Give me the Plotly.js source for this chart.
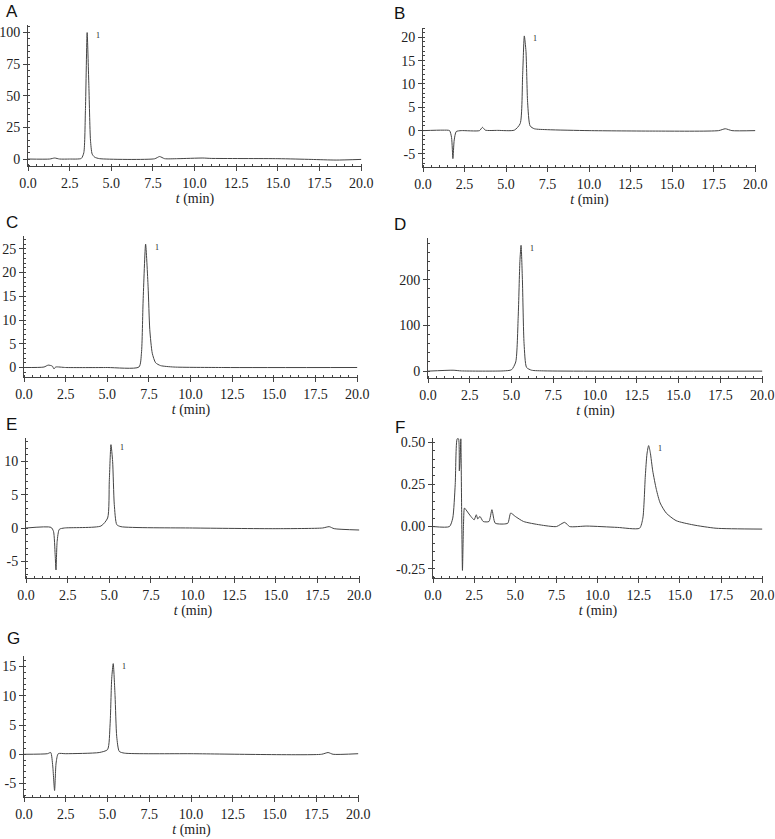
<!DOCTYPE html>
<html>
<head>
<meta charset="utf-8">
<script src="https://cdn.plot.ly/plotly-3.0.1.min.js"></script>
<style>
  body { margin: 0; background: #fff; }
  #grafico { width: 775px; height: 839px; }
</style>
</head>
<body>
<div id="grafico"></div>
<script>
/* global Plotly */

// sinais (t em min)
var tA = [0, 1.3, 1.6, 1.9, 2.5, 3.2, 3.35, 3.45, 3.55, 3.65, 3.75, 3.85, 4.0, 4.3, 7.6, 7.9, 8.2, 9, 10.5, 11, 15, 17, 18.5, 20];
var yA = [0, 0, 0.8, 0, 0, 0.5, 5, 40, 100, 60, 15, 4, 1.5, 0.3, 0.2, 2, 0.3, 0.3, 0.8, 0.5, 0.3, -0.3, -0.8, -0.3];

var tB = [0, 1.2, 1.6, 1.72, 1.8, 1.88, 2.0, 2.3, 3.4, 3.58, 3.75, 4.5, 5.5, 5.85, 6.0, 6.1, 6.2, 6.3, 6.45, 6.7, 7.5, 10, 14, 17.8, 18.2, 18.6, 20];
var yB = [0, 0.1, 0, -1.5, -6, -2, -0.2, 0, 0, 0.7, 0.1, 0.05, 0.1, 1.5, 12, 20.3, 17, 6, 1, 0.4, 0.2, 0, -0.1, 0, 0.4, 0, 0];

var tC = [0, 1.2, 1.45, 1.7, 1.8, 1.9, 2.5, 5, 6.9, 7.05, 7.15, 7.3, 7.45, 7.55, 7.7, 7.9, 8.2, 9, 12, 20];
var yC = [0, 0.1, 0.5, 0.3, -0.3, 0.1, 0, 0, 0.1, 3, 14, 26, 17, 8, 3, 1, 0.4, 0.1, 0, 0];

var tD = [0, 1.5, 2, 4.5, 5.0, 5.25, 5.4, 5.5, 5.57, 5.65, 5.75, 5.9, 6.2, 7, 20];
var yD = [0, 2, 0.5, 0.5, 3, 20, 120, 240, 275, 200, 60, 8, 2, 0.5, 0];

var tE = [0, 1.5, 1.65, 1.75, 1.8, 1.87, 2.0, 2.3, 4.5, 4.9, 5.0, 5.1, 5.2, 5.3, 5.45, 5.7, 10, 15, 17.8, 18.2, 18.5, 20];
var yE = [0, 0.1, -0.5, -4, -6.3, -2, -0.2, 0, 0.3, 1.5, 7, 12.5, 10, 3.5, 0.5, 0.2, 0, -0.1, 0, 0.2, -0.1, -0.3];

var tF = [0, 1.0, 1.2, 1.35, 1.47, 1.55, 1.6, 1.65, 1.69, 1.74, 1.79, 1.85, 1.91, 2.0, 2.3, 2.5, 2.63, 2.72, 2.85, 3.05, 3.4, 3.58, 3.78, 4.3, 4.55, 4.72, 5.0, 5.5, 6.5, 7.5, 8.0, 8.3, 9.35, 11.2, 12.55, 12.75, 12.9, 13.0, 13.1, 13.2, 13.35, 13.57, 13.8, 14.17, 14.77, 15.8, 17.2, 20];
var yF = [0, 0, 0.05, 0.25, 0.52, 0.52, 0.33, 0.4, 0.52, 0.1, -0.26, 0.0, 0.11, 0.1, 0.06, 0.04, 0.07, 0.045, 0.06, 0.03, 0.03, 0.1, 0.02, 0.015, 0.02, 0.08, 0.06, 0.03, 0.01, 0.0, 0.025, 0.0, 0.003, -0.005, -0.01, 0.05, 0.3, 0.43, 0.48, 0.44, 0.33, 0.22, 0.14, 0.08, 0.035, 0.01, -0.01, -0.015];

var tG = [0, 1.4, 1.6, 1.72, 1.83, 1.92, 2.05, 2.5, 4.5, 5.0, 5.15, 5.25, 5.34, 5.45, 5.55, 5.7, 6, 10, 17.8, 18.2, 18.5, 20];
var yG = [0, 0.1, 0.3, -2, -6.2, -1.5, 0.1, 0.1, 0.3, 0.8, 5, 13, 15.5, 10, 3, 0.5, 0.2, 0.1, 0, 0.3, 0, 0.1];

// rótulos dos eixos
var marcasX = [0, 2.5, 5, 7.5, 10, 12.5, 15, 17.5, 20];
var textosX = ['0.0', '2.5', '5.0', '7.5', '10.0', '12.5', '15.0', '17.5', '20.0'];
var marcasY = [
    [0, 25, 50, 75, 100],
    [-5, 0, 5, 10, 15, 20],
    [0, 5, 10, 15, 20, 25],
    [0, 100, 200],
    [-5, 0, 5, 10],
    [-0.25, 0, 0.25, 0.5],
    [-5, 0, 5, 10, 15]
];
var textosY = [
    ['0', '25', '50', '75', '100'],
    ['-5', '0', '5', '10', '15', '20'],
    ['0', '5', '10', '15', '20', '25'],
    ['0', '100', '200'],
    ['-5', '0', '5', '10'],
    ['-0.25', '0.00', '0.25', '0.50'],
    ['-5', '0', '5', '10', '15']
];

var letras = ['A', 'B', 'C', 'D', 'E', 'F', 'G'];
var tempos = [tA, tB, tC, tD, tE, tF, tG];
var sinais = [yA, yB, yC, yD, yE, yF, yG];
var picoT = [3.55, 6.1, 7.3, 5.57, 5.1, 13.1, 5.34];
var picoY = [100, 20.3, 26, 275, 12.5, 0.48, 15.5];

// posição de cada painel em pixels: [esq, dir, topo, base]
var caixas = [
    [28, 362, 25, 166],
    [423, 756, 28, 167],
    [24, 358, 236, 377],
    [428, 763, 238, 378],
    [26, 360, 438, 578],
    [433, 763, 438, 578],
    [24, 359, 656, 797]
];
var letraXY = [[4, 12], [392, 14], [4, 222], [392, 224], [4, 424], [393, 427], [5, 638]];
var faixasY = [[-5.5, 106], [-7.8, 22], [-2, 27.7], [-15, 291], [-7.5, 13.5], [-0.305, 0.525], [-7.3, 16.8]];
var menorY = [5, 1, 1, 20, 1, 0.05, 1];

var serifa = 'Liberation Serif';
var W = 775, H = 839;
var dados = [];
var estilo = {
    width: W,
    height: H,
    margin: {l: 0, r: 0, t: 0, b: 0},
    paper_bgcolor: '#fff',
    plot_bgcolor: 'rgba(0,0,0,0)',
    showlegend: false,
    font: {family: serifa, size: 14, color: '#222'},
    annotations: []
};

for (var i = 0; i < 7; i++) {
    var sx = i === 0 ? '' : String(i + 1);
    var c = caixas[i];
    dados.push({
        x: tempos[i],
        y: sinais[i],
        xaxis: 'x' + sx,
        yaxis: 'y' + sx,
        mode: 'lines',
        line: {color: '#444', width: 1, shape: 'spline', smoothing: 0.6},
        type: 'scatter',
        hoverinfo: 'skip'
    });
    estilo['xaxis' + sx] = {
        domain: [c[0] / W, c[1] / W],
        anchor: 'y' + sx,
        range: [0, 20.05],
        tickvals: marcasX,
        ticktext: textosX,
        tickfont: {family: serifa, size: 14, color: '#222'},
        ticklabeloverflow: 'allow',
        ticks: 'outside', ticklen: 4, tickcolor: '#444',
        minor: {ticks: 'inside', ticklen: 2, dtick: 0.5, tick0: 0, tickcolor: '#444', showgrid: false},
        showline: true, linecolor: '#444', linewidth: 1,
        showgrid: false, zeroline: false,
        title: {text: '<i>t</i> (min)', font: {family: serifa, size: 14, color: '#222'}, standoff: 2}
    };
    estilo['yaxis' + sx] = {
        domain: [1 - c[3] / H, 1 - c[2] / H],
        anchor: 'x' + sx,
        range: faixasY[i],
        tickvals: marcasY[i],
        ticktext: textosY[i],
        tickfont: {family: serifa, size: 14, color: '#222'},
        ticklabeloverflow: 'allow',
        ticks: 'outside', ticklen: 4, tickcolor: '#444',
        minor: {ticks: 'inside', ticklen: 2, dtick: menorY[i], tick0: 0, tickcolor: '#444', showgrid: false},
        showline: true, linecolor: '#444', linewidth: 1,
        showgrid: false, zeroline: false
    };
    estilo.annotations.push({
        text: letras[i], xref: 'paper', yref: 'paper',
        x: letraXY[i][0] / W, y: 1 - letraXY[i][1] / H,
        xanchor: 'left', yanchor: 'middle', showarrow: false,
        font: {family: 'Liberation Sans', size: 17, color: '#111'}
    });
    estilo.annotations.push({
        text: '1', xref: 'x' + sx, yref: 'y' + sx,
        x: picoT[i], y: picoY[i], xshift: 7, yshift: -3,
        xanchor: 'left', yanchor: 'middle', showarrow: false,
        font: {family: serifa, size: 8, color: '#222'}
    });
}

Plotly.newPlot('grafico', dados, estilo, {displayModeBar: false, staticPlot: true});
</script>
</body>
</html>
